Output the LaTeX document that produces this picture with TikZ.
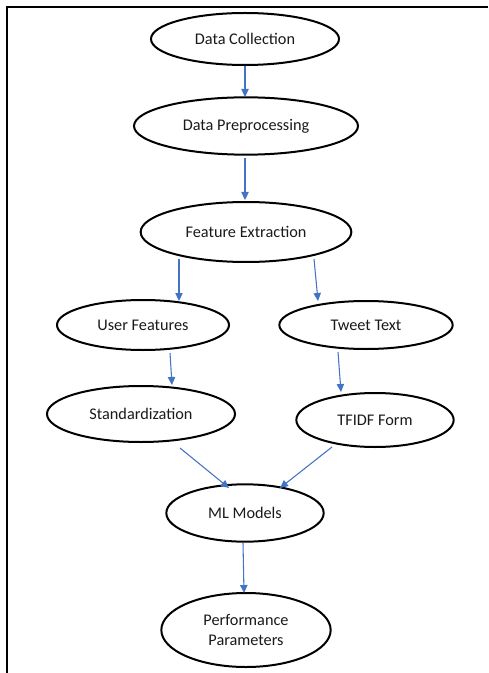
\documentclass[tikz,border=0pt]{standalone}
\usepackage{fontspec}
\setmainfont{Carlito}
\usetikzlibrary{arrows.meta, shapes.geometric}
\definecolor{Ink}   {HTML}{1A1A1A}
\definecolor{Flow}  {HTML}{4472C4}
\tikzset{
  stage/.style args={#1/#2}{
    ellipse, draw=black, fill=white, text=Ink,
    font=\fontsize{12.2}{15.5}\selectfont, align=center,
    inner sep=0pt, minimum width=#1, minimum height=#2,
    line width=1.5pt,
  },
  flow/.style={
    -{Triangle[length=6pt,width=5.5pt]},
    line width=0.8pt, color=Flow,
  },
  frame/.style={
    draw=black, line width=1.6pt,
  },
}
\begin{document}
\begin{tikzpicture}[x=0.75pt,y=-0.75pt]
    \useasboundingbox (0,0) rectangle (488,673);

    % page frame (top and left edge only)
    \coordinate (tr) at (488,7);
    \coordinate (tl) at (7,7);
    \coordinate (bl) at (7,673);
    \draw[frame] (tr) -- (tl) -- (bl);

    \node[stage=141pt/39pt]   (dc)  at (245, 39) {Data Collection};
    \node[stage=168pt/43pt]   (dp)  at (246,126) {Data Preprocessing};
    \node[stage=158pt/45pt]   (fe)  at (246,232) {Feature Extraction};
    \node[stage=129pt/37.5pt] (uf)  at (143,325) {User Features};
    \node[stage=130pt/36pt]   (tt)  at (366,325) {Tweet Text};
    \node[stage=141pt/42pt]   (std) at (141,414) {Standardization};
    \node[stage=118pt/40.5pt] (tf)  at (375,420) {TFIDF Form};
    \node[stage=118pt/43pt]   (ml)  at (245,513) {ML Models};
    \node[stage=127pt/55.5pt] (pp)  at (246,630) {Performance\\Parameters};

    \draw[flow] ([shift={(0,27)}]dc.center)   -- ([shift={(-1,-29)}]dp.center);
    \draw[flow] ([shift={(-1,32)}]dp.center)  -- ([shift={(-1,-32)}]fe.center);
    \draw[flow] ([shift={(-67,27)}]fe.center) -- ([shift={(36,-24)}]uf.center);
    \draw[flow] ([shift={(68,27)}]fe.center)  -- ([shift={(-48,-24)}]tt.center);
    \draw[flow] ([shift={(27,28)}]uf.center)  -- ([shift={(31,-29)}]std.center);
    \draw[flow] ([shift={(-28,27)}]tt.center) -- ([shift={(-34,-28)}]tf.center);
    \draw[flow] ([shift={(39,34)}]std.center) -- ([shift={(-16,-25)}]ml.center);
    \draw[flow] ([shift={(-43,27)}]tf.center) -- ([shift={(35,-25)}]ml.center);
    \draw[flow] ([shift={(-2,30)}]ml.center)  -- ([shift={(-2,-37)}]pp.center);

\end{tikzpicture}
\end{document}
